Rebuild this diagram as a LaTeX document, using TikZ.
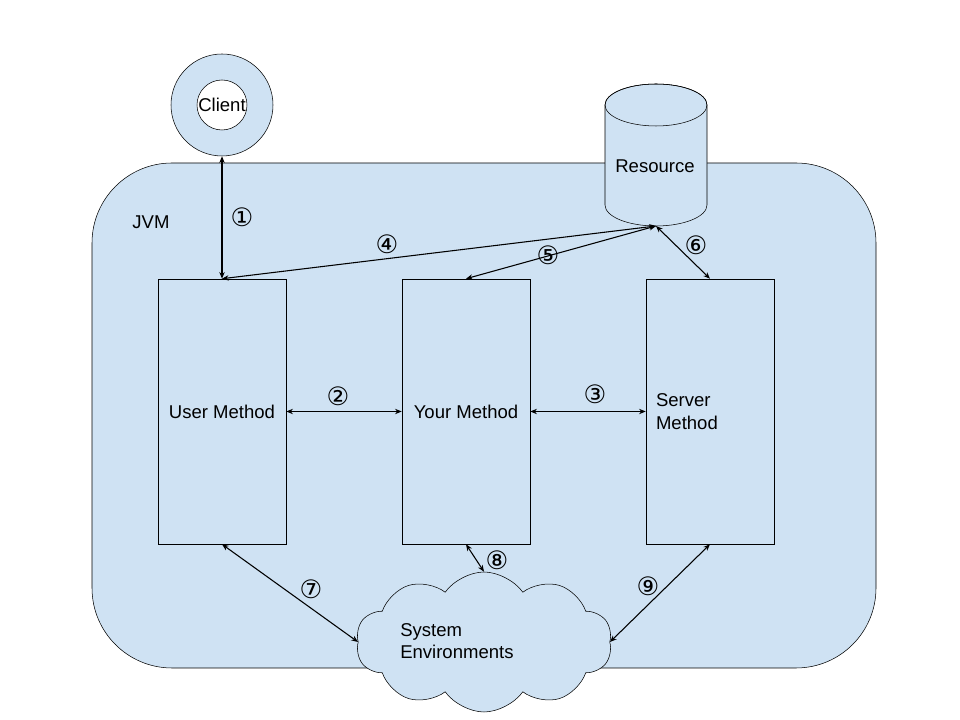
\documentclass[tikz,border=0pt]{standalone}
\usepackage{fontspec}
\setmainfont{Liberation Sans}
\newfontfamily\circfont{DejaVu Sans}
\usetikzlibrary{shapes.symbols,arrows.meta}
\definecolor{lightblue}{RGB}{207, 226, 243}

\begin{document}
\begin{tikzpicture}[x=0.75pt, y=0.75pt,
        font=\fontsize{13.9}{16.7}\selectfont,
        method/.style={draw, minimum width=96pt, minimum height=198.75pt, inner sep=0pt},
        link/.style={{Stealth[length=5pt,width=4pt]}-{Stealth[length=5pt,width=4pt]}, line width=0.8pt},
        num/.style={font=\circfont\fontsize{19}{20}\selectfont, inner sep=0pt}]
            \useasboundingbox (0,0) rectangle (960,720);
            \filldraw[fill=lightblue, rounded corners=60pt]            (92,52) rectangle (876,557);
            \node (jvm) at (151,498) {JVM};
        % client
            \node[circle, draw, fill=lightblue, minimum size=76.5pt]   (client)     at (222,615) {};
            \node[circle, draw, fill=white, minimum size=37.5pt, inner sep=0pt] (clienttext) at (client) {Client};
        % resource
            \filldraw[fill=lightblue] (605,615) -- (605,515) arc[start angle=180, end angle=360, x radius=51, y radius=21]
                                      -- (707,615) arc[start angle=0, end angle=180, x radius=51, y radius=21] -- cycle;
            \draw (656,615) ellipse[x radius=51, y radius=21];
            \node (resource) at (655,554) {Resource};
            \coordinate (resbot) at (656,494);
        % methods
            \node[method] (user)   at (222,308.5) {User Method};
            \node[method] (your)   at (466,308.5) {Your Method};
            \node[method, text width=81pt, inner xsep=7.5pt, align=left] (server) at (710,308.5) {Server\\Method};
        % environments
            \node[cloud, draw, fill=lightblue, cloud puffs=10, cloud puff arc=110, minimum width=192pt, minimum height=105pt] (env) at (484,78) {};
            \node[anchor=west, align=left, inner sep=0pt] (envtext) at (400,79) {System\\Environments};
        % links
            \draw[link] (client)      -- (user.north);
            \draw[link] (user.north)  -- (resbot);
            \draw[link] (your.north)  -- (resbot);
            \draw[link] (resbot)      -- (server.north);
            \draw[link] (user)        -- (your);
            \draw[link] (your)        -- (server);
            \draw[link] (user.south)  -- (env.west);
            \draw[link] (your.south)  -- (env.north);
            \draw[link] (server.south) -- (env.east);
            \node[num] (n1) at (242,503) {①};
            \node[num] (n2) at (338,324) {②};
            \node[num] (n3) at (595,326) {③};
            \node[num] (n4) at (387,476) {④};
            \node[num] (n5) at (548,465) {⑤};
            \node[num] (n6) at (696,475) {⑥};
            \node[num] (n7) at (311,131) {⑦};
            \node[num] (n8) at (497,160) {⑧};
            \node[num] (n9) at (648,134) {⑨};
\end{tikzpicture}
\end{document}
